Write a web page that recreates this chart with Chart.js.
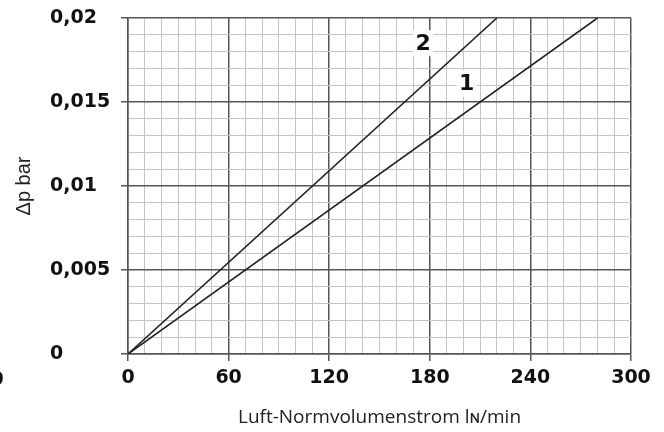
<!DOCTYPE html>
<html>
<head>
<meta charset="utf-8">
<script src="https://cdn.jsdelivr.net/npm/chart.js@4"></script>
<style>
  html, body { margin: 0; padding: 0; background: #fff; }
</style>
</head>
<body>
<canvas id="chart" width="664" height="432"></canvas>
<script>
// DATA
const curveNames = ['1', '2'];
const flow1 = [0, 280];
const dp1 = [0, 0.02];
const flow2 = [0, 220];
const dp2 = [0, 0.02];

const xTickLabels = ['0', '60', '120', '180', '240', '300'];
const yTickLabels = ['0', '0,005', '0,01', '0,015', '0,02'];

// where the curve numbers sit (data coords)
const curveLabelX = [202, 176];
const curveLabelY = [0.0161, 0.0185];

const tickFont = { family: '"DejaVu Sans", sans-serif', size: 19, weight: 'bold' };
const majorColor = '#555';
const minorColor = '#c4c4c4';

function points(xs, ys) {
  return xs.map((x, i) => ({ x: x, y: ys[i] }));
}

// curve numbers on a white patch, under the lines
const curveLabels = {
  id: 'curveLabels',
  beforeDatasetsDraw(chart) {
    const { ctx, scales: { x, y } } = chart;
    ctx.save();
    ctx.font = 'bold 22px "DejaVu Sans", sans-serif';
    ctx.textAlign = 'center';
    ctx.textBaseline = 'middle';
    curveNames.forEach((name, i) => {
      const px = x.getPixelForValue(curveLabelX[i]);
      const py = y.getPixelForValue(curveLabelY[i]);
      ctx.fillStyle = '#fff';
      ctx.fillRect(px - 10, py - 13, 20, 26);
      ctx.fillStyle = '#111';
      ctx.fillText(name, px, py + 1);
    });
    // stray zero cut off at the left edge
    ctx.font = 'bold 19px "DejaVu Sans", sans-serif';
    ctx.fillText('0', -3, 380);
    ctx.restore();
  }
};

new Chart(document.getElementById('chart'), {
  type: 'line',
  data: {
    datasets: [
      { label: curveNames[0], data: points(flow1, dp1) },
      { label: curveNames[1], data: points(flow2, dp2) }
    ]
  },
  options: {
    responsive: false,
    animation: false,
    devicePixelRatio: 1,
    layout: { padding: { left: 50, right: 33, top: 18, bottom: 0 } },
    elements: {
      line: { borderColor: '#222', borderWidth: 1.6, tension: 0 },
      point: { radius: 0 }
    },
    plugins: { legend: { display: false }, tooltip: { enabled: false } },
    scales: {
      x: {
        type: 'linear',
        min: 0,
        max: 300,
        afterFit: s => { s.height = 78; },
        ticks: {
          stepSize: 10,
          autoSkip: false,
          maxRotation: 0,
          padding: 6,
          color: '#111',
          font: tickFont,
          callback: (v, i) => (i % 6 === 0 ? xTickLabels[i / 6] : '')
        },
        grid: {
          color: c => (c.index % 6 === 0 ? majorColor : minorColor),
          lineWidth: c => (c.index % 6 === 0 ? 1.5 : 1),
          tickColor: c => (c.index % 6 === 0 ? majorColor : 'rgba(0,0,0,0)'),
          tickLength: 7
        },
        border: { color: majorColor, width: 1.5 },
        title: {
          display: true,
          text: 'Luft-Normvolumenstrom lɴ/min',
          color: '#222',
          font: { family: '"Open Sans", sans-serif', size: 19 },
          padding: { top: 0, bottom: 3 }
        }
      },
      y: {
        min: 0,
        max: 0.02,
        afterFit: s => { s.width = 78; },
        ticks: {
          stepSize: 0.001,
          autoSkip: false,
          crossAlign: 'far',
          color: '#111',
          font: tickFont,
          callback: (v, i) => (i % 5 === 0 ? yTickLabels[i / 5] : '')
        },
        grid: {
          color: c => (c.index % 5 === 0 ? majorColor : minorColor),
          lineWidth: c => (c.index % 5 === 0 ? 1.5 : 1),
          tickColor: c => (c.index % 5 === 0 ? majorColor : 'rgba(0,0,0,0)'),
          tickLength: 7
        },
        border: { color: majorColor, width: 1.5 },
        title: {
          display: true,
          text: 'Δp bar',
          color: '#222',
          font: { family: '"Liberation Sans", Arial, sans-serif', size: 20 },
          padding: { top: -38, bottom: 0 }
        }
      }
    }
  },
  plugins: [curveLabels]
});
</script>
</body>
</html>
